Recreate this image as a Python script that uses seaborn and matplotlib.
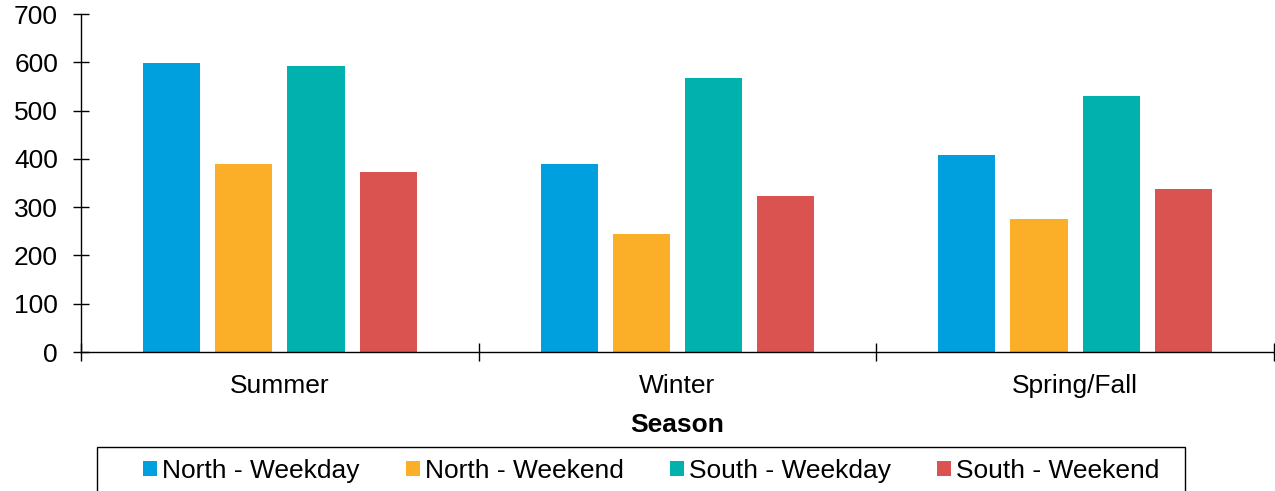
import matplotlib
matplotlib.use("Agg")
import matplotlib.pyplot as plt
import seaborn as sns
import pandas as pd
from matplotlib.patches import Patch, Rectangle

seasons = ["Summer", "Winter", "Spring/Fall"]
groups = ["North - Weekday", "North - Weekend", "South - Weekday", "South - Weekend"]
north_weekday = [598, 390, 408]
north_weekend = [389, 245, 275]
south_weekday = [592, 568, 531]
south_weekend = [373, 324, 338]
colors = ["#009FDD", "#FBAE27", "#00B1AE", "#DB5350"]

series = [north_weekday, north_weekend, south_weekday, south_weekend]
df = pd.DataFrame(
    [(s, g, v) for g, vals in zip(groups, series) for s, v in zip(seasons, vals)],
    columns=["Season", "Group", "Value"],
)

sns.set_theme(style="white")
plt.rcParams["font.family"] = ["Liberation Sans", "DejaVu Sans"]

FS = 19
W, H = 1275, 491
fig = plt.figure(figsize=(W / 100, H / 100), dpi=100)
ax = fig.add_axes([81 / W, 1 - 352 / H, (1274 - 81) / W, (352 - 14) / H])

sns.barplot(
    data=df, x="Season", y="Value", hue="Group", order=seasons, hue_order=groups,
    palette=colors, width=0.727, gap=0.21, linewidth=0, saturation=1, ax=ax,
    legend=False,
)

ax.set_xlim(-0.5, 2.5)
ax.set_ylim(0, 700)
ax.set_yticks(range(0, 701, 100))
ax.tick_params(axis="y", direction="inout", length=11, width=1, color="black",
               labelsize=FS, labelcolor="black", left=True, pad=11)
ax.set_xticks(range(len(seasons)))
ax.set_xticklabels(seasons)
ax.tick_params(axis="x", which="major", length=0, labelsize=FS, labelcolor="black", pad=16)
ax.set_xticks([-0.5, 0.5, 1.5, 2.5], minor=True)
ax.tick_params(axis="x", which="minor", direction="inout", length=13, width=1,
               color="black", bottom=True)

for side in ("top", "right"):
    ax.spines[side].set_visible(False)
for side in ("left", "bottom"):
    ax.spines[side].set_color("black")
    ax.spines[side].set_linewidth(1)

ax.set_ylabel("")
ax.set_xlabel("Season", fontsize=FS, fontweight="bold", color="black", labelpad=11)

# legend entries, with a box frame running off the bottom edge
handles = [Patch(facecolor=c, edgecolor="none") for c in colors]
leg = fig.legend(
    handles, groups, loc="center left", bbox_to_anchor=(143 / W, 1 - 471 / H),
    ncol=4, fontsize=FS, frameon=False,
    handlelength=0.53, handleheight=0.53, handletextpad=0.2, columnspacing=1.74,
    borderpad=0, borderaxespad=0,
)
for t in leg.get_texts():
    t.set_color("black")
fig.patches.append(Rectangle((97 / W, -0.05), (1185 - 97) / W, 0.05 + 1 - 447 / H,
                             transform=fig.transFigure, fill=False,
                             edgecolor="black", linewidth=1))

fig.savefig("out.png", dpi=100)
